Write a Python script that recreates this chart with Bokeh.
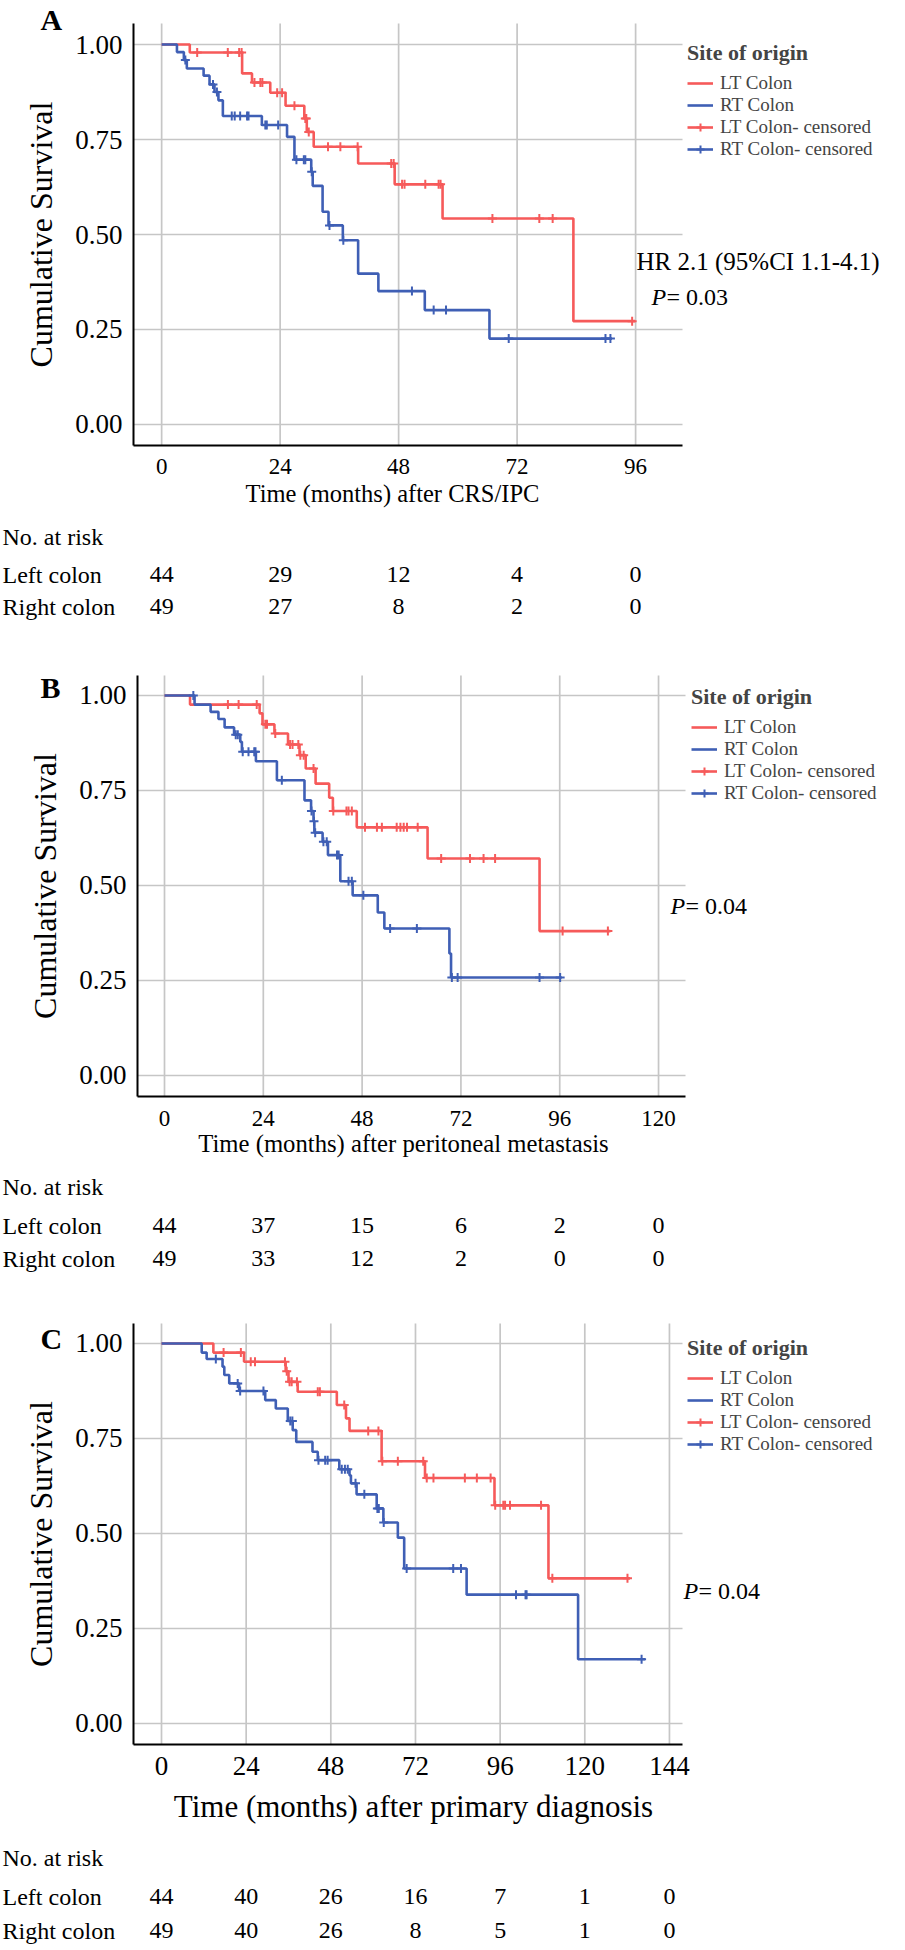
import numpy as np
from bokeh.plotting import figure
from bokeh.models import (Range1d, FixedTicker, Label, Legend, LegendItem,
                          NumeralTickFormatter)
from bokeh.layouts import column
from bokeh.embed import file_html
from bokeh.resources import INLINE

FONT = "Liberation Serif"
RED = "#F65A5A"
BLUE = "#3F5FB5"
GRID = "#C6C6C6"

# ---------------- Panel A : after CRS/IPC ----------------
a_ticks = [0, 24, 48, 72, 96]
a_lt_times = [0, 5.7, 16.3, 18.3, 22.0, 25.1, 28.9, 29.4, 30.8, 39.8, 47.2, 56.9, 83.4]
a_lt_surv = [1.0, 0.979, 0.924, 0.900, 0.873, 0.839, 0.805, 0.770, 0.731, 0.687, 0.632, 0.542, 0.272]
a_lt_end = 95.9
a_lt_cens = [7.2, 13.4, 15.7, 16.2, 18.8, 20.0, 20.4, 23.4, 24.4, 26.9, 29.1, 29.3, 29.8,
             33.7, 36.2, 39.7, 46.5, 47.0, 48.7, 49.2, 53.4, 56.1, 56.5, 67.0, 76.5, 79.2, 95.3]
a_rt_times = [0, 3.1, 4.5, 5.1, 8.5, 9.7, 10.7, 11.5, 12.4, 20.3, 25.4, 26.9, 30.3, 30.6,
              32.6, 33.8, 36.7, 39.8, 43.9, 53.3, 66.4]
a_rt_surv = [1.0, 0.980, 0.959, 0.937, 0.918, 0.895, 0.875, 0.853, 0.812, 0.788, 0.757, 0.697,
             0.665, 0.628, 0.560, 0.524, 0.485, 0.397, 0.351, 0.301, 0.226]
a_rt_end = 91.2
a_rt_cens = [4.8, 10.4, 11.2, 14.2, 14.8, 15.9, 17.3, 17.6, 21.0, 21.3, 23.6, 27.3, 28.8, 29.1,
             30.4, 34.0, 36.8, 50.7, 55.1, 57.6, 70.3, 89.9, 90.9]
a_risk_left = [44, 29, 12, 4, 0]
a_risk_right = [49, 27, 8, 2, 0]

# ---------------- Panel B : after peritoneal metastasis ----------------
b_ticks = [0, 24, 48, 72, 96, 120]
b_lt_times = [0, 6.2, 23.1, 23.8, 26.7, 30.0, 32.8, 34.3, 36.7, 40.0, 40.9, 46.7, 63.9, 91.1]
b_lt_surv = [1.0, 0.976, 0.953, 0.924, 0.900, 0.871, 0.843, 0.808, 0.768, 0.731, 0.696, 0.653,
             0.571, 0.380]
b_lt_end = 108.3
b_lt_cens = [15.4, 18.0, 22.4, 24.5, 24.9, 26.9, 30.5, 31.1, 32.5, 33.0, 33.8, 36.2, 41.0, 44.2,
             44.7, 45.5, 48.7, 51.6, 52.8, 56.4, 57.3, 58.1, 58.9, 61.5, 67.2, 74.2, 77.5, 80.3,
             96.7, 107.7]
b_rt_times = [0, 7.3, 11.2, 13.1, 14.6, 16.9, 18.4, 18.8, 22.2, 27.3, 34.0, 35.6, 36.2, 36.4,
              38.4, 39.7, 42.7, 45.7, 51.8, 53.4, 69.2, 69.6]
b_rt_surv = [1.0, 0.976, 0.957, 0.938, 0.916, 0.897, 0.878, 0.852, 0.827, 0.777, 0.724, 0.696,
             0.669, 0.639, 0.615, 0.580, 0.511, 0.474, 0.429, 0.387, 0.321, 0.258]
b_rt_end = 96.5
b_rt_cens = [7.0, 17.3, 17.8, 19.0, 20.4, 21.8, 22.1, 28.5, 35.7, 36.3, 36.6, 38.6, 39.4, 41.9,
             42.3, 44.7, 45.5, 48.3, 54.8, 61.3, 69.8, 71.2, 91.1, 96.1]
b_risk_left = [44, 37, 15, 6, 2, 0]
b_risk_right = [49, 33, 12, 2, 0, 0]

# ---------------- Panel C : after primary diagnosis ----------------
c_ticks = [0, 24, 48, 72, 96, 120, 144]
c_lt_times = [0, 14.7, 23.4, 35.2, 36.0, 38.6, 49.7, 52.3, 53.3, 62.4, 74.7, 94.4, 109.7]
c_lt_surv = [1.0, 0.976, 0.952, 0.927, 0.899, 0.873, 0.838, 0.803, 0.770, 0.690, 0.646, 0.574,
             0.382]
c_lt_end = 132.8
c_lt_cens = [17.6, 22.5, 25.3, 26.5, 35.0, 35.5, 36.3, 36.9, 38.4, 44.3, 44.9, 51.8, 58.6, 61.5,
             62.6, 67.0, 74.2, 75.2, 77.1, 86.0, 89.4, 93.3, 94.6, 96.9, 97.4, 98.8, 107.6, 110.8,
             132.1]
c_rt_times = [0, 11.4, 12.8, 17.3, 17.8, 19.2, 22.0, 29.4, 32.4, 35.8, 37.2, 38.2, 42.8, 44.3,
              50.4, 53.3, 53.7, 55.3, 61.0, 62.9, 67.0, 68.8, 86.5, 118.1]
c_rt_surv = [1.0, 0.976, 0.959, 0.939, 0.917, 0.895, 0.875, 0.851, 0.829, 0.796, 0.772, 0.741,
             0.715, 0.693, 0.669, 0.653, 0.632, 0.603, 0.566, 0.529, 0.489, 0.408, 0.339, 0.169]
c_rt_end = 137.1
c_rt_cens = [15.4, 21.6, 22.3, 28.9, 36.5, 37.1, 44.5, 46.4, 47.1, 51.1, 52.0, 52.8, 55.0, 57.5,
             61.2, 61.6, 63.0, 69.5, 82.7, 84.9, 100.5, 103.2, 103.5, 136.1]
c_risk_left = [44, 40, 26, 16, 7, 1, 0]
c_risk_right = [49, 40, 26, 8, 5, 1, 0]

y_ticks = [0.0, 0.25, 0.5, 0.75, 1.0]
legend_labels = ["LT Colon", "RT Colon", "LT Colon- censored", "RT Colon- censored"]
row_labels = ["No. at risk", "Left colon", "Right colon"]

PAGE_L, FIG_W = 2, 895


def cens_y(times, surv, cens):
    idx = np.searchsorted(np.array(times), np.array(cens), side="right") - 1
    return [surv[i] for i in idx]


def panel(letter, ticks, lt, rt, risk_l, risk_r, xtitle, notes, g):
    # g: geometry of the plotting area in picture pixels and its data limits
    xlo, xhi = g["xlim"]
    ylo, yhi = g["ylim"]
    kx = (g["right"] - g["left"]) / (xhi - xlo)
    ky = (g["bottom"] - g["top"]) / (yhi - ylo)
    fig_bottom = g["fig_top"] + g["height"]
    xr = Range1d(xlo - (g["left"] - PAGE_L) / kx, xhi + (PAGE_L + FIG_W - g["right"]) / kx)
    yr = Range1d(ylo - (fig_bottom - g["bottom"]) / ky, yhi + (g["top"] - g["fig_top"]) / ky)

    p = figure(width=FIG_W, height=g["height"], output_backend="svg", toolbar_location=None,
               x_range=xr, y_range=yr, min_border=0)
    p.outline_line_color = None
    p.background_fill_color = "white"
    p.border_fill_color = "white"
    p.grid.visible = False

    def sx(px):
        return px - PAGE_L

    def sy(py):
        return fig_bottom - py

    def label(text, x, y, size, xu="screen", align="left", style="normal"):
        p.add_layout(Label(x=x, y=y, x_units=xu, y_units="screen", text=text,
                           text_font=FONT, text_font_size=size, text_font_style=style,
                           text_align=align, text_baseline="middle", text_color="black"))

    # axes fixed at the edges of the plotting area
    p.xaxis.fixed_location = ylo
    p.yaxis.fixed_location = xlo
    p.xaxis.bounds = (xlo, xhi)
    p.yaxis.bounds = (ylo, yhi)
    for ax in (p.xaxis[0], p.yaxis[0]):
        ax.axis_line_width = 2
        ax.axis_line_color = "black"
        ax.major_tick_line_color = None
        ax.minor_tick_line_color = None
        ax.major_label_text_font = FONT
        ax.axis_label_text_font = FONT
        ax.axis_label_text_font_style = "normal"
        ax.major_label_text_color = "black"
        ax.axis_label_text_color = "black"
    p.xaxis.ticker = FixedTicker(ticks=ticks)
    p.yaxis.ticker = FixedTicker(ticks=y_ticks)
    p.yaxis.formatter = NumeralTickFormatter(format="0.00")
    p.xaxis.major_label_text_font_size = g["xtick"]
    p.yaxis.major_label_text_font_size = "27px"
    p.yaxis.axis_label = "Cumulative Survival"
    p.yaxis.axis_label_text_font_size = "32px"
    p.xaxis.major_label_standoff = g["xstand"]
    p.yaxis.major_label_standoff = 5
    p.yaxis.axis_label_standoff = 13

    # grid lines at the tick positions, inside the plotting area
    p.segment(x0=ticks, x1=ticks, y0=ylo, y1=yhi, line_color=GRID, line_width=1.7)
    p.segment(x0=xlo, x1=xhi, y0=y_ticks, y1=y_ticks, line_color=GRID, line_width=1.7)

    rends, cens_r = [], []
    for (times, surv, end, cens), col in ((lt, RED), (rt, BLUE)):
        r = p.step(x=list(times) + [end], y=list(surv) + [surv[-1]], mode="after",
                   line_color=col, line_width=2.6)
        c = p.scatter(x=cens, y=cens_y(times, surv, cens), marker="cross", size=9,
                      line_color=col, line_width=2)
        rends.append(r)
        cens_r.append(c)

    leg = Legend(items=[LegendItem(label=legend_labels[0], renderers=[rends[0]]),
                        LegendItem(label=legend_labels[1], renderers=[rends[1]]),
                        LegendItem(label=legend_labels[2], renderers=[rends[0], cens_r[0]]),
                        LegendItem(label=legend_labels[3], renderers=[rends[1], cens_r[1]])],
                 location=(sx(g["leg_x"]), sy(g["leg_bottom"])), title="Site of origin",
                 title_text_font=FONT, title_text_font_size="22px",
                 title_text_font_style="bold", title_standoff=6,
                 label_text_font=FONT, label_text_font_size="19px",
                 glyph_width=26, glyph_height=20, label_height=20, label_standoff=7,
                 spacing=0, padding=0, margin=0,
                 border_line_color=None, background_fill_alpha=0)
    p.add_layout(leg)

    # panel letter, x-axis title and statistics
    label(letter, sx(42), sy(g["letter_y"]), "30px", style="bold")
    label(xtitle, g["title_x"], sy(g["title_y"]), g["xtitle"], xu="screen", align="center")
    for text, px, py, style, size in notes:
        label(text, sx(px), sy(py), size, style=style)

    rows = g["rows"]
    for name, py in zip(row_labels, rows):
        label(name, sx(PAGE_L + 2), sy(py), "24px")
    for t, n in zip(ticks, risk_l):
        label(str(n), t, sy(rows[1]), "24px", xu="data", align="center")
    for t, n in zip(ticks, risk_r):
        label(str(n), t, sy(rows[2]), "24px", xu="data", align="center")
    return p


pa = panel("A", a_ticks,
           (a_lt_times, a_lt_surv, a_lt_end, a_lt_cens),
           (a_rt_times, a_rt_surv, a_rt_end, a_rt_cens),
           a_risk_left, a_risk_right, "Time (months) after CRS/IPC",
           [("HR 2.1 (95%CI 1.1-4.1)", 638, 263, "normal", "25px"),
            ("P", 653, 298, "italic", "24px"), ("= 0.03", 668, 298, "normal", "24px")],
           dict(fig_top=2, height=638, left=135, right=684, top=25, bottom=447,
                xlim=(-5.7, 105.5), ylim=(-0.0553, 1.0553),
                xtick="23px", xtitle="24.5px", xstand=7, title_x=394 - 2, title_y=495,
                leg_x=689, leg_bottom=162, letter_y=20.5, rows=(538, 576, 608)))

pb = panel("B", b_ticks,
           (b_lt_times, b_lt_surv, b_lt_end, b_lt_cens),
           (b_rt_times, b_rt_surv, b_rt_end, b_rt_cens),
           b_risk_left, b_risk_right, "Time (months) after peritoneal metastasis",
           [("P", 672, 907, "italic", "24px"), ("= 0.04", 687, 907, "normal", "24px")],
           dict(fig_top=640, height=650, left=139, right=687, top=677, bottom=1098,
                xlim=(-6.56, 126.55), ylim=(-0.0553, 1.0526),
                xtick="23px", xtitle="24.7px", xstand=8, title_x=405 - 2, title_y=1145,
                leg_x=693, leg_bottom=806, letter_y=688.5, rows=(1188, 1227, 1260)))

pc = panel("C", c_ticks,
           (c_lt_times, c_lt_surv, c_lt_end, c_lt_cens),
           (c_rt_times, c_rt_surv, c_rt_end, c_rt_cens),
           c_risk_left, c_risk_right, "Time (months) after primary diagnosis",
           [("P", 685, 1592, "italic", "24px"), ("= 0.04", 700, 1592, "normal", "24px")],
           dict(fig_top=1290, height=656, left=135, right=684, top=1325, bottom=1746,
                xlim=(-7.94, 147.7), ylim=(-0.0553, 1.0526),
                xtick="27px", xtitle="31px", xstand=6, title_x=415 - 2, title_y=1808,
                leg_x=689, leg_bottom=1457, letter_y=1339.5, rows=(1859, 1898, 1932)))

layout = column(pa, pb, pc, spacing=0)
open("out.html", "w").write(file_html(layout, INLINE))
